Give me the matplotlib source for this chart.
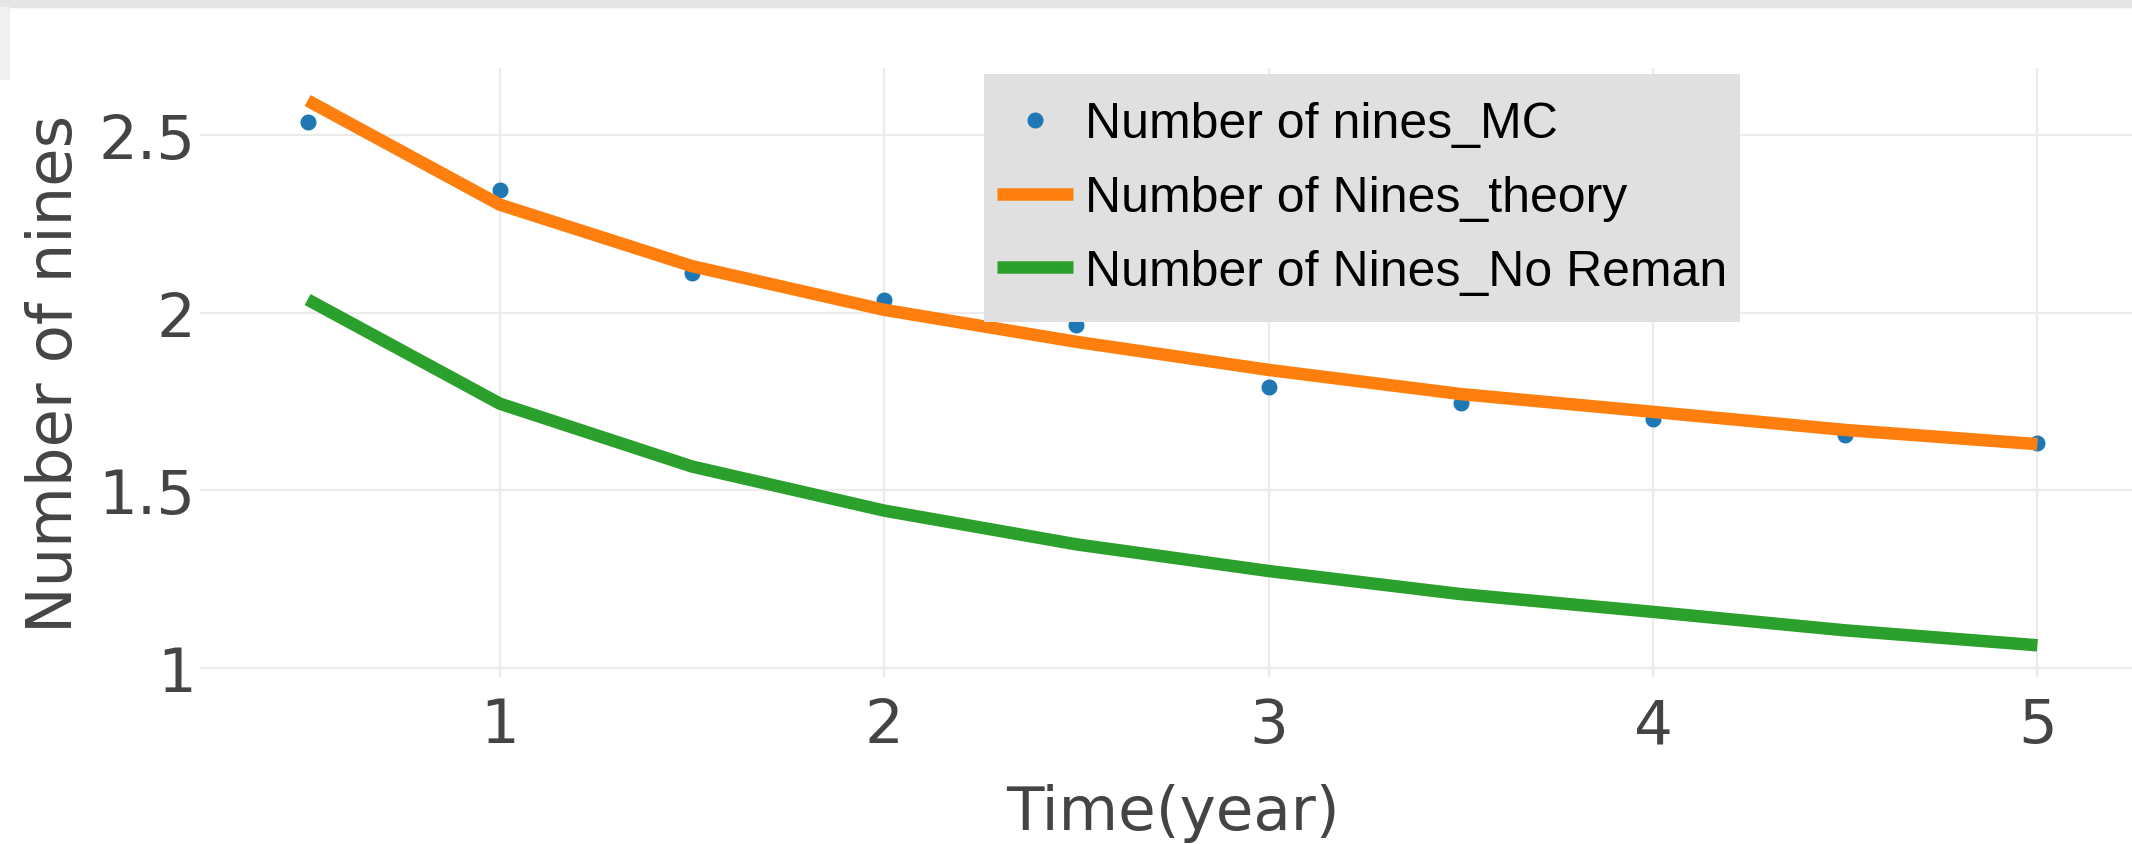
import matplotlib.pyplot as plt
from matplotlib.patches import Rectangle
from matplotlib.path import Path

# values
time_years = [0.5, 1, 1.5, 2, 2.5, 3, 3.5, 4, 4.5, 5]
nines_mc = [2.537, 2.346, 2.111, 2.035, 1.965, 1.791, 1.745, 1.700, 1.656, 1.632]
nines_theory = [2.597, 2.304, 2.131, 2.008, 1.918, 1.839, 1.771, 1.721, 1.670, 1.630]
nines_no_reman = [2.037, 1.744, 1.567, 1.443, 1.348, 1.273, 1.208, 1.158, 1.106, 1.064]

x_ticks = [1, 2, 3, 4, 5]
y_ticks = [1, 1.5, 2, 2.5]
y_tick_labels = ['1', '1.5', '2', '2.5']

W, H = 2132, 845
fig = plt.figure(figsize=(W / 100, H / 100), dpi=100)
ax = fig.add_axes([200 / W, 1 - 678 / H, 1945 / W, 609 / H])

# screenshot border at the top / left
fig.patches.append(Rectangle((0, 1 - 8 / H), 1, 8 / H, transform=fig.transFigure,
                             color='#e5e5e5', zorder=0))
fig.patches.append(Rectangle((0, 1 - 80 / H), 9 / W, 72 / H, transform=fig.transFigure,
                             color='#f1f1f1', zorder=0))

ax.plot(time_years, nines_mc, linestyle='none', marker='o', markersize=10.5,
        color='#1f77b4', label='Number of nines_MC', zorder=3)
ax.plot(time_years, nines_theory, color='#ff7f0e', linewidth=9,
        solid_capstyle='butt', label='Number of Nines_theory', zorder=4)
ax.plot(time_years, nines_no_reman, color='#2ca02c', linewidth=9,
        solid_capstyle='butt', label='Number of Nines_No Reman', zorder=4)

ax.set_xlim(0.22, 5.28)
ax.set_ylim(0.9747, 2.6886)
ax.set_xticks(x_ticks)
ax.set_xticklabels([str(t) for t in x_ticks])
ax.set_yticks(y_ticks)
ax.set_yticklabels(y_tick_labels)

for s in ax.spines.values():
    s.set_visible(False)
ax.grid(True, color='#ebebeb', linewidth=1.6, zorder=0)
ax.set_axisbelow(True)
ax.tick_params(axis='both', length=0, labelsize=44, labelcolor='#444444')
ax.tick_params(axis='x', pad=14)
ax.tick_params(axis='y', pad=3)

ax.set_xlabel('Time(year)', fontsize=44, color='#444444')
ax.xaxis.label.set_va('baseline')
ax.xaxis.set_label_coords(0.5, (678 - 830) / 609)
ax.set_ylabel('Number of nines', fontsize=45, color='#444444')
ax.yaxis.label.set_va('baseline')
ax.yaxis.set_label_coords((72 - 200) / 1945, 0.5)

# legend box has more padding top/bottom than left/right
extra = 15


def legend_frame(x0, y0, width, height, mutation_size):
    return Path([(x0, y0 - extra), (x0 + width, y0 - extra),
                 (x0 + width, y0 + height + extra), (x0, y0 + height + extra),
                 (x0, y0 - extra)], closed=True)


leg = ax.legend(loc='upper left', bbox_to_anchor=(984 / W, 1 - (75 + extra) / H),
                bbox_transform=fig.transFigure, borderaxespad=0,
                prop={'family': 'Liberation Sans', 'size': 36},
                frameon=True, fancybox=False, framealpha=1,
                facecolor='#e0e0e0', edgecolor='none',
                borderpad=0.25, labelspacing=0.55,
                handlelength=1.52, handletextpad=0.25, numpoints=1)
leg.get_frame().set_boxstyle(legend_frame)
for t in leg.get_texts():
    t.set_color('black')

fig.savefig('out.png', dpi=100)
